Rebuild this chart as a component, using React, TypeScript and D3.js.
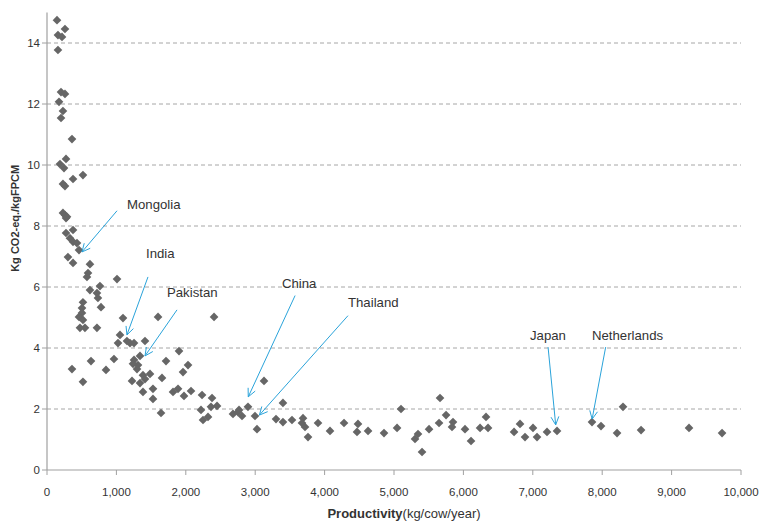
import React from "react";
import * as d3 from "d3";

const productivity = [
  144, 259, 158, 216, 158,
  202, 259, 173, 230, 202,
  360,
  187, 274, 245, 375, 518,
  259, 230,
  230, 259, 274, 288,
  274, 375, 331, 375, 432, 461,
  302, 375, 619, 591, 576, 1009,
  619, 763, 720, 734, 778,
  518, 504, 504, 461, 518, 475, 547, 720,
  1095, 1600, 2407,
  1052, 1023, 1152, 1196, 1254, 1412,
  1340, 1254, 1239, 1311, 1297, 1383, 1484, 1412, 1225, 1340, 1383, 1527, 1527, 1643, 1657, 1715, 1902, 2032, 1960, 1816, 1888, 1974, 2075, 2234, 2378, 2450, 2363, 2219, 2248, 2320,
  360, 518, 634, 850, 965,
  2680, 2752, 2810, 2767, 2896, 2997, 3026, 3127,
  3300, 3400, 3400, 3530, 3689, 3674, 3718, 3761, 3905, 4078, 4280, 4481, 4467, 4626, 4856, 5044, 5101, 5303, 5346, 5404, 5505, 5649, 5663, 5750, 5850, 5836, 6023, 6110, 6240, 6326, 6355, 6730, 6816, 6888, 7003, 7061, 7205, 7349, 7853, 7983, 8214, 8300, 8560, 9251, 9727,
];

const emissions = [
  14.75, 14.46, 14.26, 14.2, 13.77,
  12.39, 12.33, 12.07, 11.77, 11.54,
  10.85,
  10.03, 10.2, 9.9, 9.54, 9.67,
  9.31, 9.38,
  8.43, 8.36, 8.26, 8.3,
  7.77, 7.87, 7.6, 7.48, 7.44, 7.21,
  6.98, 6.79, 6.75, 6.46, 6.33, 6.26,
  5.9, 6.03, 5.8, 5.64, 5.34,
  5.5, 5.31, 5.15, 5.02, 4.92, 4.66, 4.66, 4.66,
  4.98, 5.02, 5.02,
  4.43, 4.16, 4.23, 4.16, 4.16, 4.23,
  3.74, 3.61, 3.48, 3.44, 3.31, 3.11, 3.15, 2.98, 2.92, 2.85, 2.56, 2.66, 2.33, 1.87, 3.02, 3.57, 3.9, 3.44, 3.21, 2.56, 2.66, 2.43, 2.59, 2.46, 2.36, 2.1, 2.07, 1.97, 1.64, 1.74,
  3.31, 2.89, 3.57, 3.28, 3.64,
  1.84, 1.9, 1.77, 1.97, 2.07, 1.77, 1.34, 2.92,
  1.67, 2.2, 1.57, 1.64, 1.7, 1.54, 1.41, 1.08, 1.54, 1.28, 1.54, 1.51, 1.25, 1.28, 1.21, 1.38, 2.0, 1.02, 1.18, 0.59, 1.34, 1.54, 2.36, 1.8, 1.57, 1.41, 1.34, 0.95, 1.38, 1.74, 1.38, 1.25, 1.51, 1.08, 1.38, 1.08, 1.25, 1.28, 1.57, 1.44, 1.21, 2.07, 1.31, 1.38, 1.21,
];

const yTicks = [0, 2, 4, 6, 8, 10, 12, 14];
const xTicks = [0, 1000, 2000, 3000, 4000, 5000, 6000, 7000, 8000, 9000, 10000];

// annotations: label, arrow start (data), arrow tip (data), label position (data)
const annLabels = ["Mongolia", "India", "Pakistan", "China", "Thailand", "Japan", "Netherlands"];
const annStart = [
  [1009, 8.5], [1455, 6.33], [1873, 5.25], [3575, 5.72], [4337, 5.06], [7220, 4.03], [8050, 4.03],
];
const annTip = [
  [504, 7.15], [1152, 4.43], [1412, 3.74], [2900, 2.4], [3060, 1.8], [7330, 1.48], [7855, 1.67],
];
const annText = [
  [1153, 8.56], [1427, 6.96], [1729, 5.66], [3386, 5.96], [4337, 5.36], [6960, 4.26], [7853, 4.26],
];

export default function App() {
  const W = 762, H = 523;
  const x = d3.scaleLinear().domain([0, 10000]).range([47, 741]);
  const y = d3.scaleLinear().domain([0, 15]).range([470, 12.5]);
  const fmt = d3.format(",");
  const diamond = d3.symbol().type(d3.symbolDiamond2).size(48)();
  const gridColor = "#a6a6a6";
  const axisColor = "#a0a0a0";
  const blue = "#2aa3da";
  const font = "Liberation Sans, Arial, sans-serif";

  const arrowHead = (sx: number, sy: number, tx: number, ty: number) => {
    const ang = Math.atan2(ty - sy, tx - sx);
    const L = 9, a = 0.45;
    const p1 = [tx - L * Math.cos(ang - a), ty - L * Math.sin(ang - a)];
    const p2 = [tx - L * Math.cos(ang + a), ty - L * Math.sin(ang + a)];
    return `M${p1[0]},${p1[1]}L${tx},${ty}L${p2[0]},${p2[1]}`;
  };

  return (
    <svg width={W} height={H} style={{ position: "absolute", left: 0, top: 0, background: "#fff" }} fontFamily={font}>
      {/* gridlines */}
      {yTicks.filter((t) => t > 0).map((t) => (
        <line key={"g" + t} x1={x(0)} x2={x(10000)} y1={y(t)} y2={y(t)} stroke={gridColor} strokeWidth={1} strokeDasharray="4,3" />
      ))}
      {/* axes */}
      <line x1={x(0)} x2={x(0)} y1={y(15)} y2={y(0)} stroke={axisColor} strokeWidth={1.2} />
      <line x1={x(0)} x2={x(10000)} y1={y(0)} y2={y(0)} stroke={axisColor} strokeWidth={1.2} />
      {yTicks.map((t) => (
        <g key={"yt" + t}>
          <line x1={x(0) - 5} x2={x(0)} y1={y(t)} y2={y(t)} stroke={axisColor} />
          <text x={x(0) - 7} y={y(t)} dy="0.35em" textAnchor="end" fontSize={11.5} fill="#333">{t}</text>
        </g>
      ))}
      {xTicks.map((t) => (
        <g key={"xt" + t}>
          <line x1={x(t)} x2={x(t)} y1={y(0)} y2={y(0) + 5} stroke={axisColor} />
          <text x={x(t)} y={y(0) + 26} textAnchor="middle" fontSize={11.5} fill="#333">{fmt(t)}</text>
        </g>
      ))}
      {/* axis titles */}
      <text x={404} y={518} textAnchor="middle" fontSize={13} fill="#333">
        <tspan fontWeight="bold">Productivity</tspan>
        <tspan>(kg/cow/year)</tspan>
      </text>
      <text transform={`translate(19,${y(8.25)}) rotate(-90)`} textAnchor="middle" fontSize={11} fontWeight="bold" fill="#333">
        Kg CO2-eq./kgFPCM
      </text>
      {/* points */}
      {productivity.map((p, i) => (
        <path key={"p" + i} d={diamond} transform={`translate(${x(p)},${y(emissions[i])})`} fill="#666666" />
      ))}
      {/* annotations */}
      {annLabels.map((lab, i) => {
        const sx = x(annStart[i][0]), sy = y(annStart[i][1]);
        const tx = x(annTip[i][0]), ty = y(annTip[i][1]);
        return (
          <g key={"a" + i}>
            <line x1={sx} y1={sy} x2={tx} y2={ty} stroke={blue} strokeWidth={1} />
            <path d={arrowHead(sx, sy, tx, ty)} fill="none" stroke={blue} strokeWidth={1} />
            <text x={x(annText[i][0])} y={y(annText[i][1])} fontSize={13.2} fill="#333">{lab}</text>
          </g>
        );
      })}
    </svg>
  );
}
